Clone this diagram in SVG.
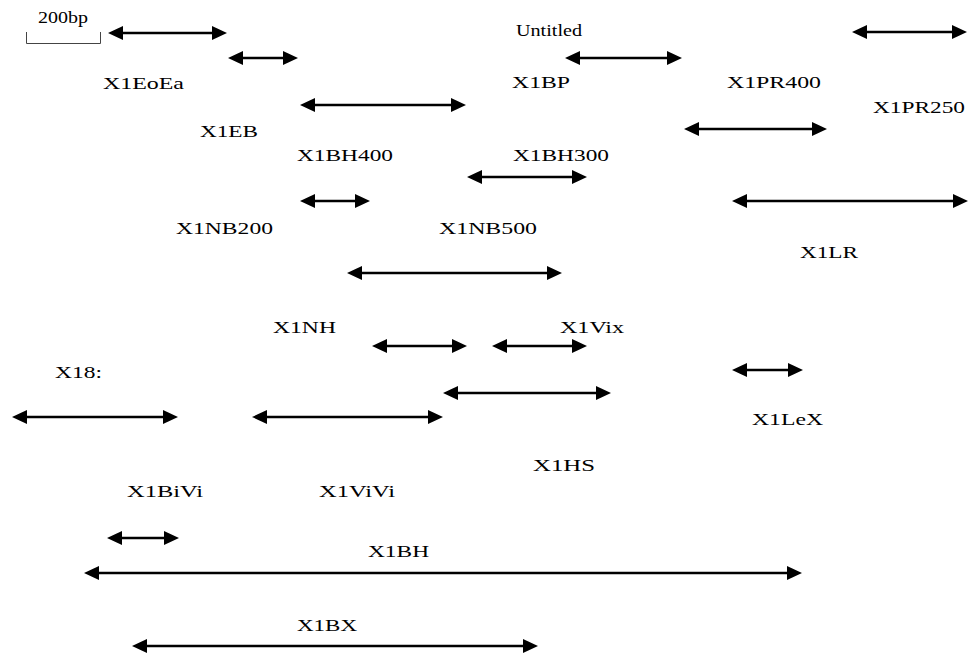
<svg xmlns="http://www.w3.org/2000/svg" width="968" height="655" viewBox="0 0 968 655">
<defs>
<marker id="ah" markerUnits="userSpaceOnUse" markerWidth="16" markerHeight="15" refX="5" refY="7" orient="auto-start-reverse" overflow="visible">
<path d="M0,0 L15,7 L0,14 z" fill="#000"/>
</marker>
</defs>
<style>
.t{font-family:"Liberation Serif","Times New Roman",serif;font-size:17.5px;fill:#000}
.s{font-family:"Liberation Serif","Times New Roman",serif;font-size:16px;fill:#000}
.a{stroke:#000;stroke-width:2.5;fill:none;marker-start:url(#ah);marker-end:url(#ah)}
</style>
<rect width="968" height="655" fill="#fff"/>
<g id="scale">
<path d="M26.5,32 V43.5 H100.5 V32" fill="none" stroke="#444" stroke-width="1"/>
<text class="s" x="38" y="23" textLength="50" lengthAdjust="spacingAndGlyphs">200bp</text>
</g>
<g id="title"><text class="s" x="516" y="36" textLength="66" lengthAdjust="spacingAndGlyphs">Untitled</text></g>
<g id="labels">
<g id="X1EoEa"><text class="t" x="103" y="89" textLength="81" lengthAdjust="spacingAndGlyphs">X1EoEa</text></g>
<g id="X1BP"><text class="t" x="512" y="88" textLength="58" lengthAdjust="spacingAndGlyphs">X1BP</text></g>
<g id="X1PR400"><text class="t" x="727" y="88" textLength="94" lengthAdjust="spacingAndGlyphs">X1PR400</text></g>
<g id="X1PR250"><text class="t" x="873" y="113" textLength="92" lengthAdjust="spacingAndGlyphs">X1PR250</text></g>
<g id="X1EB"><text class="t" x="200" y="137" textLength="58" lengthAdjust="spacingAndGlyphs">X1EB</text></g>
<g id="X1BH400"><text class="t" x="297" y="161" textLength="96" lengthAdjust="spacingAndGlyphs">X1BH400</text></g>
<g id="X1BH300"><text class="t" x="513" y="161" textLength="96" lengthAdjust="spacingAndGlyphs">X1BH300</text></g>
<g id="X1NB200"><text class="t" x="176" y="234" textLength="97" lengthAdjust="spacingAndGlyphs">X1NB200</text></g>
<g id="X1NB500"><text class="t" x="439" y="234" textLength="98" lengthAdjust="spacingAndGlyphs">X1NB500</text></g>
<g id="X1LR"><text class="t" x="800" y="258" textLength="58" lengthAdjust="spacingAndGlyphs">X1LR</text></g>
<g id="X1NH"><text class="t" x="273" y="333" textLength="63" lengthAdjust="spacingAndGlyphs">X1NH</text></g>
<g id="X1Vix"><text class="t" x="560" y="333" textLength="64" lengthAdjust="spacingAndGlyphs">X1Vix</text></g>
<g id="X18"><text class="t" x="55" y="378" textLength="47" lengthAdjust="spacingAndGlyphs">X18:</text></g>
<g id="X1LeX"><text class="t" x="752" y="425" textLength="71" lengthAdjust="spacingAndGlyphs">X1LeX</text></g>
<g id="X1HS"><text class="t" x="533" y="471" textLength="62" lengthAdjust="spacingAndGlyphs">X1HS</text></g>
<g id="X1BiVi"><text class="t" x="127" y="497" textLength="76" lengthAdjust="spacingAndGlyphs">X1BiVi</text></g>
<g id="X1ViVi"><text class="t" x="319" y="497" textLength="76" lengthAdjust="spacingAndGlyphs">X1ViVi</text></g>
<g id="X1BH"><text class="t" x="368" y="557" textLength="61" lengthAdjust="spacingAndGlyphs">X1BH</text></g>
<g id="X1BX"><text class="t" x="297" y="631" textLength="60" lengthAdjust="spacingAndGlyphs">X1BX</text></g>
</g>
<g id="connectors">
<line class="a" x1="118" y1="33" x2="217" y2="33"/>
<line class="a" x1="238" y1="58" x2="288" y2="58"/>
<line class="a" x1="310" y1="105" x2="456" y2="105"/>
<line class="a" x1="575" y1="58" x2="672" y2="58"/>
<line class="a" x1="862" y1="32" x2="957" y2="32"/>
<line class="a" x1="694" y1="129" x2="817" y2="129"/>
<line class="a" x1="477" y1="177" x2="577" y2="177"/>
<line class="a" x1="310" y1="201" x2="360" y2="201"/>
<line class="a" x1="742" y1="201" x2="958" y2="201"/>
<line class="a" x1="357" y1="273" x2="552" y2="273"/>
<line class="a" x1="382" y1="346" x2="457" y2="346"/>
<line class="a" x1="502" y1="346" x2="577" y2="346"/>
<line class="a" x1="742" y1="370" x2="793" y2="370"/>
<line class="a" x1="453" y1="393" x2="601" y2="393"/>
<line class="a" x1="22" y1="417" x2="168" y2="417"/>
<line class="a" x1="262" y1="417" x2="433" y2="417"/>
<line class="a" x1="117" y1="538" x2="169" y2="538"/>
<line class="a" x1="94" y1="573" x2="792" y2="573"/>
<line class="a" x1="142" y1="646" x2="528" y2="646"/>
</g>
</svg>
